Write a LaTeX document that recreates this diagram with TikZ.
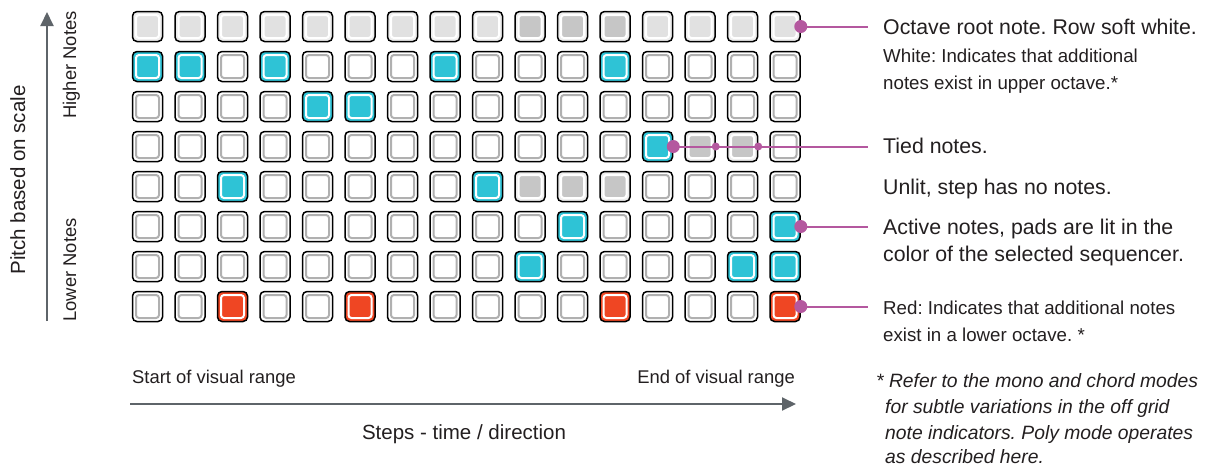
\documentclass[tikz,border=0pt]{standalone}
\usepackage{fontspec}
\setmainfont{Liberation Sans}
\usetikzlibrary{arrows.meta}
\definecolor{padcyan}{HTML}{2EC3D6}
\definecolor{padred}{HTML}{EF4623}
\definecolor{ringgray}{HTML}{B0B0B0}
\definecolor{softwhite}{HTML}{E1E1E1}
\definecolor{tiedgray}{HTML}{C6C6C6}
\definecolor{padedge}{HTML}{EEEEEE}
\definecolor{callout}{HTML}{B4589F}
\definecolor{axisgray}{HTML}{5E6469}
\definecolor{txt}{HTML}{231F20}
\frenchspacing
\begin{document}
\begin{tikzpicture}[x=1pt,y=-1pt,
  padbase/.style n args={3}{draw=black, line width=1.5pt, rounded corners=4.5pt,
    minimum width=30pt, minimum height=30pt, inner sep=0pt, fill=#1,
    path picture={\draw[draw=#2, fill=#3, line width=2pt, rounded corners=3pt]
      ([shift={(3.5pt,3.5pt)}]path picture bounding box.south west) rectangle
      ([shift={(-3.5pt,-3.5pt)}]path picture bounding box.north east);}},
  padu/.style={padbase={white}{ringgray}{white}},
  padc/.style={padbase={padcyan}{white}{padcyan}},
  padr/.style={padbase={padred}{white}{padred}},
  pado/.style={padbase={padedge}{white}{softwhite}},
  padg/.style={padbase={padedge}{white}{tiedgray}},
  pad/.style={pad#1},
  callline/.style={draw=callout, line width=2pt},
  bigdot/.style={fill=callout},
  axisline/.style={draw=axisgray, line width=2pt, -{Triangle[length=14pt,width=13pt]}},
  bigtxt/.style={font=\fontsize{21.3}{27}\selectfont, text=txt, inner sep=0pt},
  smalltxt/.style={font=\fontsize{18.7}{27}\selectfont, text=txt, inner sep=0pt},
  notetxt/.style={font=\fontsize{19.3}{26}\selectfont\itshape, text=txt, inner sep=0pt},
  axistxt/.style={font=\fontsize{18.4}{22}\selectfont, text=txt, inner sep=0pt},
  axisbig/.style={font=\fontsize{20.5}{24}\selectfont, text=txt, inner sep=0pt},
]
\useasboundingbox (0,0) rectangle (1205,467);
\fill[white] (0,0) rectangle (1205,467);

% grid of pads
\foreach \row [count=\r] in {
  {o,o,o,o,o,o,o,o,o,g,g,g,o,o,o,o},
  {c,c,u,c,u,u,u,c,u,u,u,c,u,u,u,u},
  {u,u,u,u,c,c,u,u,u,u,u,u,u,u,u,u},
  {u,u,u,u,u,u,u,u,u,u,u,u,c,g,g,u},
  {u,u,c,u,u,u,u,u,c,g,g,g,u,u,u,u},
  {u,u,u,u,u,u,u,u,u,u,c,u,u,u,u,c},
  {u,u,u,u,u,u,u,u,u,c,u,u,u,u,c,c},
  {u,u,r,u,u,r,u,u,u,u,u,r,u,u,u,r}} {
  \foreach \t [count=\c] in \row {
    \node[pad/.expanded=\t] (p-\r-\c) at ({147.5+42.5*(\c-1)},{26.5+40*(\r-1)}) {};
  }
}

% callouts
\coordinate (e1) at (868,26.5);
\coordinate (e2) at (868,146.5);
\coordinate (e3) at (868,226.5);
\coordinate (e4) at (868,306.5);
\draw[callline] (p-1-16.east) -- (e1);
\fill[bigdot] (p-1-16.east) circle (6.5pt);
\draw[callline] (p-4-13.east) -- (e2);
\fill[bigdot] (p-4-13.east) circle (6.5pt);
\fill[bigdot] (p-4-14.east) circle (4pt);
\fill[bigdot] (p-4-15.east) circle (4pt);
\draw[callline] (p-6-16.east) -- (e3);
\fill[bigdot] (p-6-16.east) circle (6.5pt);
\draw[callline] (p-8-16.east) -- (e4);
\fill[bigdot] (p-8-16.east) circle (6.5pt);

% right-hand texts
\node[bigtxt, anchor=base west] (t1) at (883,34.5) {Octave root note. Row soft white.};
\node[smalltxt, anchor=base west] (t2a) at (883,62.5) {White: Indicates that additional};
\node[smalltxt, anchor=base west] (t2b) at (883,89.5) {notes exist in upper octave.*};
\node[bigtxt, anchor=base west] (t3) at (883,153.5) {Tied notes.};
\node[bigtxt, anchor=base west] (t4) at (883,194) {Unlit, step has no notes.};
\node[bigtxt, anchor=base west] (t5a) at (883,234.5) {Active notes, pads are lit in the};
\node[bigtxt, anchor=base west] (t5b) at (883,261.5) {color of the selected sequencer.};
\node[smalltxt, anchor=base west] (t6a) at (883,314.5) {Red: Indicates that additional notes};
\node[smalltxt, anchor=base west] (t6b) at (883,341) {exist in a lower octave. *};

% footnote
\node[notetxt, anchor=base west] (n1) at (876,387) {* Refer to the mono and chord modes};
\node[notetxt, anchor=base west] (n2) at (885,413) {for subtle variations in the off grid};
\node[notetxt, anchor=base west] (n3) at (885,439) {note indicators. Poly mode operates};
\node[notetxt, anchor=base west] (n4) at (885,463) {as described here.};

% vertical axis
\coordinate (ya) at (47,321);
\coordinate (yb) at (47,12);
\draw[axisline] (ya) -- (yb);
\node[axisbig, rotate=90, anchor=base] (pitch) at (25,180) {Pitch based on scale};
\node[axistxt, rotate=90, anchor=base] (high) at (76,65) {Higher Notes};
\node[axistxt, rotate=90, anchor=base] (low) at (76,270) {Lower Notes};

% horizontal axis
\coordinate (xa) at (130,404);
\coordinate (xb) at (796,404);
\draw[axisline] (xa) -- (xb);
\node[axistxt, anchor=base west] (start) at (132,383) {Start of visual range};
\node[axistxt, anchor=base east] (end) at (795,383) {End of visual range};
\node[axisbig, anchor=base] (steps) at (464,439) {Steps - time / direction};
\end{tikzpicture}
\end{document}
